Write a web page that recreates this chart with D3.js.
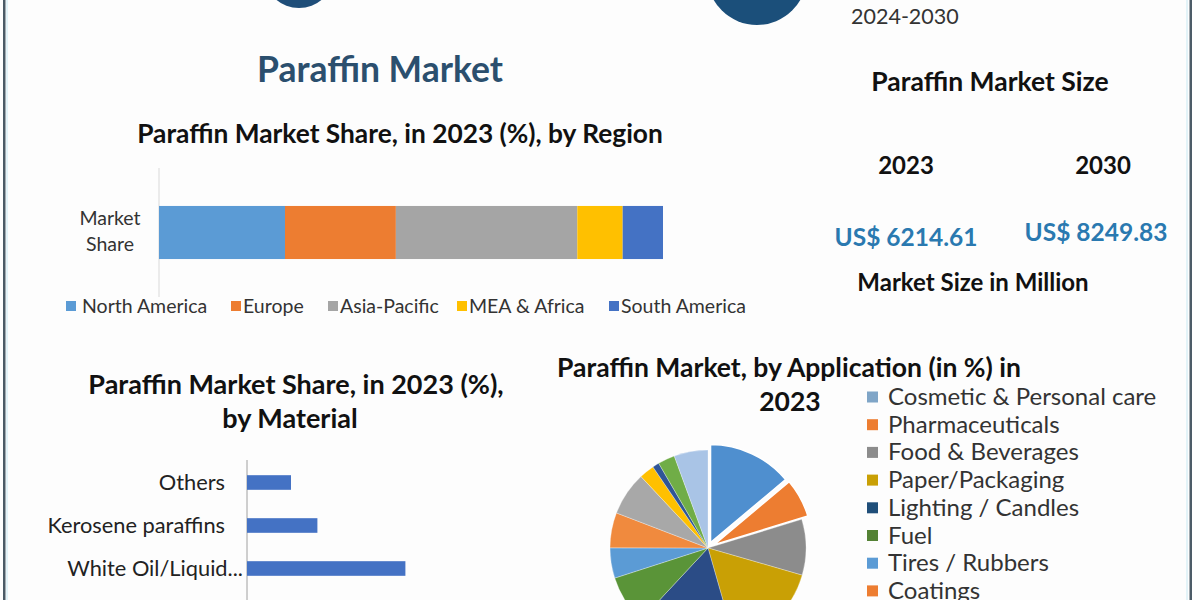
<!DOCTYPE html>
<html>
<head>
<meta charset="utf-8">
<script src="https://cdn.jsdelivr.net/npm/d3@7"></script>
<style>
html,body{margin:0;padding:0;background:#fff;}
svg{display:block;font-family:Lato,"Open Sans",sans-serif;}
</style>
</head>
<body>
<svg id="chart" width="1200" height="600"></svg>
<script>
// ---------- DATA ----------
const regionCategories = ["North America","Europe","Asia-Pacific","MEA & Africa","South America"];
const regionShares = [25, 22, 36, 9, 8];
const regionColors = ["#5b9bd5","#ed7d31","#a5a5a5","#ffc000","#4472c4"];

const marketYears = ["2023","2030"];
const marketValues = ["US$ 6214.61","US$ 8249.83"];

const materialCategories = ["Others","Kerosene paraffins","White Oil/Liquid..."];
const materialShares = [10, 16, 36];

const appCategories = ["Cosmetic & Personal care","Pharmaceuticals","Food & Beverages","Paper/Packaging","Lighting / Candles","Fuel","Tires / Rubbers","Coatings","Adhesives","Polishes","Crayons","Textiles","Others"];
const appShares = [13.9, 6.4, 9.2, 16.1, 16.4, 8.1, 5.0, 5.8, 7.2, 2.5, 1.1, 2.8, 5.6];
const appColors = ["#4f8fcf","#ed7d31","#8c8c8c","#c9a005","#2b4c86","#5a9438","#5b9bd5","#f08a3e","#a8a8a8","#ffc000","#2f5597","#70ad47","#a9c4e6"];
const appLegendColors = ["#7fa5c7","#ed7d31","#8c8c8c","#c9a005","#1f4e79","#548235","#5b9bd5","#ed7d31","#a8a8a8","#ffc000","#2f5597","#70ad47","#a9c4e6"];

// ---------- DRAW ----------
const svg = d3.select("#chart");
svg.append("rect").attr("width",1200).attr("height",600).attr("fill","#fdfdfd");

// borders
svg.append("rect").attr("x",3).attr("y",0).attr("width",2.5).attr("height",600).attr("fill","#4a5a66");
svg.append("rect").attr("x",6).attr("y",0).attr("width",2).attr("height",600).attr("fill","#e3f3f8");
svg.append("rect").attr("x",1189.5).attr("y",0).attr("width",2.5).attr("height",600).attr("fill","#4a5a66");
svg.append("rect").attr("x",1186).attr("y",0).attr("width",2).attr("height",600).attr("fill","#e3f3f8");

// partial logos at top
svg.append("ellipse").attr("cx",299).attr("cy",-22).attr("rx",33).attr("ry",30).attr("fill","#1f4e79");
svg.append("circle").attr("cx",757).attr("cy",-25).attr("r",50).attr("fill","#1b4f7a");
svg.append("text").attr("x",851).attr("y",24).attr("font-size",21.5).attr("fill","#333").text("2024-2030");

// main title
svg.append("text").attr("x",380).attr("y",82).attr("text-anchor","middle")
  .attr("font-size",35.5).attr("font-weight","bold").attr("fill","#2b4f6e").text("Paraffin Market");

// ---------- Region stacked bar ----------
svg.append("text").attr("x",400).attr("y",143).attr("text-anchor","middle")
  .attr("font-size",26.3).attr("font-weight","bold").attr("fill","#111")
  .text("Paraffin Market Share, in 2023 (%), by Region");

const xR = d3.scaleLinear().domain([0,100]).range([159,663]);
const yR = d3.scaleBand().domain(["Market Share"]).range([168,297]).padding(0.417);
const stackData = [];
let acc = 0;
regionShares.forEach((v,i)=>{stackData.push({cat:regionCategories[i],x0:acc,x1:acc+v,color:regionColors[i]}); acc+=v;});
svg.append("line").attr("x1",159).attr("x2",159).attr("y1",168).attr("y2",297).attr("stroke","#d9d9d9");
svg.selectAll("rect.reg").data(stackData).enter().append("rect").attr("class","reg")
  .attr("x",d=>xR(d.x0)).attr("width",d=>xR(d.x1)-xR(d.x0))
  .attr("y",yR("Market Share")).attr("height",yR.bandwidth()).attr("fill",d=>d.color);
const mlab = svg.append("text").attr("text-anchor","middle").attr("font-size",19.5).attr("fill","#333");
mlab.append("tspan").attr("x",110).attr("y",225).text("Market");
mlab.append("tspan").attr("x",110).attr("y",251).text("Share");

// region legend
const regLegX = [66,231,328,457,609];
const rl = svg.selectAll("g.rl").data(regionCategories).enter().append("g").attr("class","rl")
  .attr("transform",(d,i)=>`translate(${regLegX[i]},306)`);
rl.append("rect").attr("x",0).attr("y",-5).attr("width",10).attr("height",10).attr("fill",(d,i)=>regionColors[i]);
rl.append("text").attr("x",(d,i)=>i===0?16:12).attr("y",6.5).attr("font-size",19.5).attr("fill","#333").text(d=>d);

// ---------- Market size ----------
svg.append("text").attr("x",990).attr("y",91).attr("text-anchor","middle")
  .attr("font-size",26.5).attr("font-weight","bold").attr("fill","#111").text("Paraffin Market Size");
const yearX = [906,1103];
const valX = [906,1096];
const valY = [246,241];
marketYears.forEach((y,i)=>{
  svg.append("text").attr("x",yearX[i]).attr("y",174).attr("text-anchor","middle")
    .attr("font-size",24).attr("font-weight","bold").attr("fill","#111").text(y);
  svg.append("text").attr("x",valX[i]).attr("y",valY[i]).attr("text-anchor","middle")
    .attr("font-size",24.5).attr("font-weight","bold").attr("fill","#2a79b0").text(marketValues[i]);
});
svg.append("text").attr("x",973).attr("y",291).attr("text-anchor","middle")
  .attr("font-size",24).attr("font-weight","bold").attr("fill","#111").text("Market Size in Million");

// ---------- Material bar ----------
const mt = svg.append("text").attr("text-anchor","middle").attr("font-size",27).attr("font-weight","bold").attr("fill","#111");
mt.append("tspan").attr("x",296).attr("y",394).text("Paraffin Market Share, in 2023 (%),");
mt.append("tspan").attr("x",290).attr("y",428).text("by Material");

const xM = d3.scaleLinear().domain([0,50]).range([247,467]);
const yM = d3.scaleBand().domain(materialCategories).range([461,590]).paddingInner(0.66).paddingOuter(0.33);
svg.append("line").attr("x1",247).attr("x2",247).attr("y1",460).attr("y2",600).attr("stroke","#a0a0a0");
svg.selectAll("rect.mat").data(materialCategories).enter().append("rect").attr("class","mat")
  .attr("x",xM(0)).attr("y",d=>yM(d)).attr("width",(d,i)=>xM(materialShares[i])-xM(0))
  .attr("height",yM.bandwidth()).attr("fill","#4472c4");
svg.selectAll("text.mat").data(materialCategories).enter().append("text").attr("class","mat")
  .attr("x",d=>d.endsWith("...")?243:225).attr("y",d=>yM(d)+yM.bandwidth()/2+7.5).attr("text-anchor","end")
  .attr("font-size",21.8).attr("fill","#222").text(d=>d);

// ---------- Application pie ----------
const pt = svg.append("text").attr("text-anchor","middle").attr("font-size",26.5).attr("font-weight","bold").attr("fill","#111");
pt.append("tspan").attr("x",789).attr("y",377).text("Paraffin Market, by Application (in %) in");
pt.append("tspan").attr("x",790).attr("y",411).text("2023");

const cx = 708, cy = 548, R = 98;
const pie = d3.pie().sort(null).value(d=>d)(appShares);
const arc = d3.arc().innerRadius(0).outerRadius(R);
const explode = [6,7,0,0,0,0,0,0,0,0,0,0,0];
const pg = svg.append("g").attr("transform",`translate(${cx},${cy})`);
pg.selectAll("path").data(pie).enter().append("path")
  .attr("d",arc)
  .attr("transform",(d,i)=>{const a=(d.startAngle+d.endAngle)/2; return `translate(${Math.sin(a)*explode[i]},${-Math.cos(a)*explode[i]})`;})
  .attr("fill",(d,i)=>appColors[i]).attr("stroke","#fff").attr("stroke-width",(d,i)=>explode[i]?1.5:0.3);

// pie legend
const al = svg.selectAll("g.al").data(appCategories).enter().append("g").attr("class","al")
  .attr("transform",(d,i)=>`translate(867,${397+i*27.7})`);
al.append("rect").attr("x",0).attr("y",-5.5).attr("width",11).attr("height",11).attr("fill",(d,i)=>appLegendColors[i]);
al.append("text").attr("x",21).attr("y",8).attr("font-size",24).attr("fill","#333").text(d=>d);
</script>
</body>
</html>
